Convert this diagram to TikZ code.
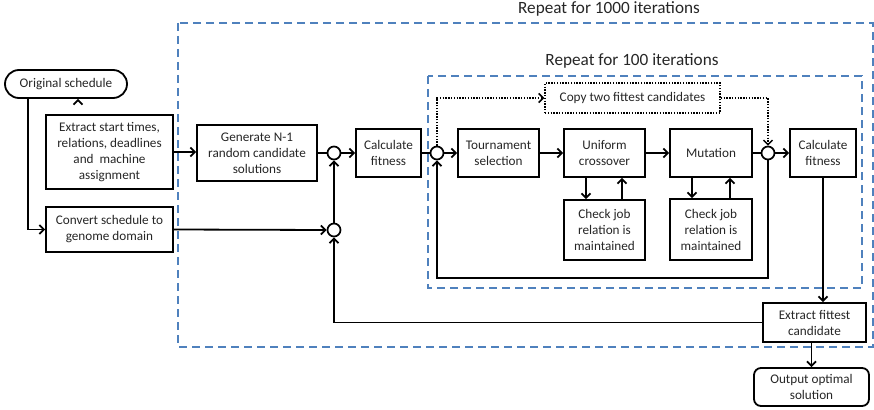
\documentclass[tikz,border=0pt]{standalone}
\usepackage{fontspec}
\setmainfont{Carlito}
\usetikzlibrary{arrows.meta,calc}
\definecolor{dashblue}{HTML}{4F81BD}
\definecolor{txt}{HTML}{262626}
\begin{document}
\begin{tikzpicture}[x=1pt,y=-1pt,
  box/.style={draw, line width=1.8pt, align=center, inner sep=0pt, text=txt,
    font=\fontsize{13.2}{16}\selectfont},
  circ/.style={draw, line width=1.7pt, circle, minimum size=13pt, inner sep=0pt, fill=white},
  ln/.style={line width=1.8pt},
  arr/.style={line width=1.8pt, -{Straight Barb[length=4.5pt,width=9pt]}},
  dotarr/.style={line width=1.5pt, dash pattern=on 1.4pt off 1.4pt, -{Straight Barb[length=4.5pt,width=9pt]}},
  region/.style={draw=dashblue, line width=1.8pt, dash pattern=on 8pt off 5pt},
  head/.style={text=txt, font=\fontsize{17.2}{19}\selectfont}
]
\useasboundingbox (0,0) rectangle (874,409);
% regions
\draw[region] (178,23) rectangle (873,347);
\draw[region] (428,76) rectangle (862,288);
\node[head] (lab1000) at (609,9) {Repeat for 1000 iterations};
\node[head] (lab100) at (632,61) {Repeat for 100 iterations};
% nodes
\node[box, rounded corners=14pt, minimum width=122pt, minimum height=28pt] (orig) at (66,84) {Original schedule};
\node[box, minimum width=127pt, minimum height=74pt] (ext) at (109.5,152) {Extract start times,\\relations, deadlines\\and\ \ machine\\assignment};
\node[box, minimum width=127pt, minimum height=45pt] (conv) at (109.5,229.5) {Convert schedule to\\genome domain};
\node[box, minimum width=120pt, minimum height=56pt] (gen) at (257,153) {Generate N-1\\random candidate\\solutions};
\node[box, minimum width=65pt, minimum height=48pt] (calc1) at (388.5,153) {Calculate\\fitness};
\node[box, minimum width=81pt, minimum height=48pt] (tour) at (498.5,153) {Tournament\\selection};
\node[box, minimum width=81pt, minimum height=48pt] (unif) at (604.5,153) {Uniform\\crossover};
\node[box, minimum width=81pt, minimum height=60pt] (chk1) at (604.5,230) {Check job\\relation is\\maintained};
\node[box, minimum width=82pt, minimum height=48pt] (mut) at (711,153) {Mutation};
\node[box, minimum width=82pt, minimum height=61pt] (chk2) at (711,229.5) {Check job\\relation is\\maintained};
\node[box, minimum width=66pt, minimum height=48pt] (calc2) at (823,153) {Calculate\\fitness};
\node[box, line width=1.5pt, dash pattern=on 1.4pt off 1.4pt, minimum width=175pt, minimum height=30pt] (copy) at (632.5,98) {Copy two fittest candidates};
\node[box, minimum width=103pt, minimum height=39pt] (extf) at (814.5,322.5) {Extract fittest\\candidate};
\node[box, rounded corners=7pt, minimum width=115pt, minimum height=38pt] (out) at (811.5,387) {Output optimal\\solution};
\node[circ] (c1) at (334,153) {};
\node[circ] (c2) at (334,230) {};
\node[circ] (c3) at (437,153) {};
\node[circ] (c4) at (768,153) {};
% connectors
\draw[arr] ($(orig.south)+(12,0)$) -- ($(orig.south)+(12,0)$ |- ext.north);
\draw[arr] ($(orig.south)+(-38,0)$) |- (conv.west);
\draw[arr] (ext.east) -- (ext.east -| gen.west);
\draw[ln] (gen.east) -- (c1.west);
\draw[arr] (c1.east) -- (calc1.west);
\draw[arr] (conv.east) -- (c2.west);
\draw[arr] (c2.north) -- (c1.south);
\draw[arr] (extf.west) -| (c2.south);
\draw[ln] (calc1.east) -- (c3.west);
\draw[arr] (c3.east) -- (tour.west);
\draw[arr] (tour.east) -- (unif.west);
\draw[arr] (unif.east) -- (mut.west);
\draw[ln] (mut.east) -- (c4.west);
\draw[arr] (c4.east) -- (calc2.west);
\draw[arr] (calc2.south) -- (calc2.south |- extf.north);
\draw[arr] (extf.south -| out.north) -- (out.north);
\draw[arr] (c4.south) -- ++(0,117.5) -| (c3.south);
\draw[arr] ($(unif.south)+(-18.5,0)$) -- ($(chk1.north)+(-18.5,0)$);
\draw[arr] ($(chk1.north)+(17.5,0)$) -- ($(unif.south)+(17.5,0)$);
\draw[arr] ($(mut.south)+(-19,0)$) -- ($(chk2.north)+(-19,0)$);
\draw[arr] ($(chk2.north)+(19,0)$) -- ($(mut.south)+(19,0)$);
\draw[dotarr] (c3.north) |- (copy.west);
\draw[dotarr] (copy.east) -| (c4.north);
\end{tikzpicture}
\end{document}
